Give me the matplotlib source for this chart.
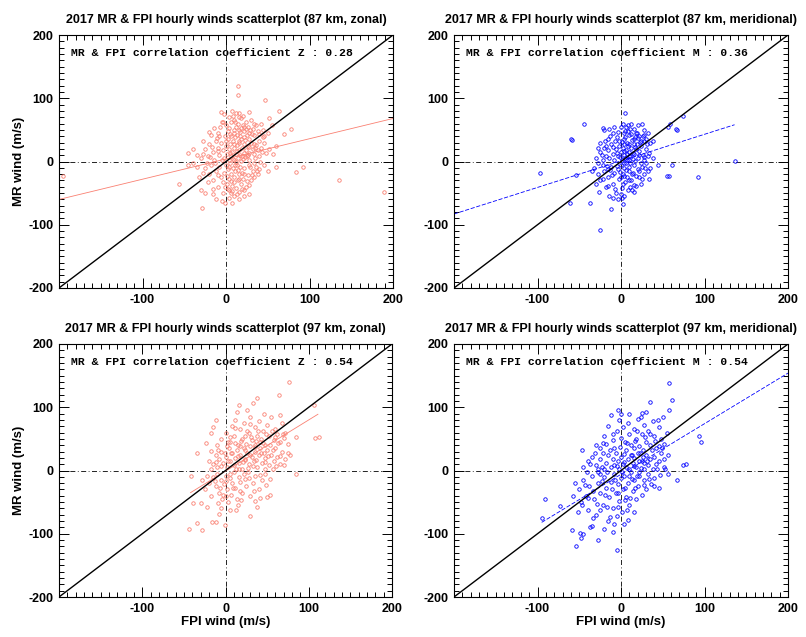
import numpy as np
import matplotlib
matplotlib.use("Agg")
from matplotlib import pyplot as plt

# (FPI wind, MR wind) pairs, m/s
zonal_87 = [
    (14, 119), (14, 105), (47, 98), (64, 80), (-6, 78), (16, 77), (52, 69), (78, 51), (70, 43),
    (-20, 47), (-40, 20), (-46, 14), (92, -8), (84, -17), (60, -8), (-56, -36), (-29, -74),
    (-1, -65), (7, -65), (15, -60), (6, -50), (-195, -23), (135, -29), (189, -48),
    (-14, 53), (-10, 45), (-5, 62), (0, 58), (3, 70), (6, 62), (8, 72), (10, 66), (12, 55),
    (14, 60), (16, 50), (18, 68), (20, 58), (22, 48), (24, 62), (26, 55), (28, 45), (30, 65),
    (32, 52), (34, 42), (36, 58), (38, 48), (40, 44), (42, 60), (-18, 42), (-8, 40), (2, 48),
    (5, 44), (9, 50), (13, 42), (17, 40), (21, 55), (25, 42), (29, 50), (33, 60), (44, 50),
    (46, 40), (50, 45), (55, 58), (-2, 75), (7, 80), (12, 76), (20, 72), (27, 78),
    (-25, 20), (-20, 28), (-16, 15), (-12, 32), (-10, 22), (-8, 10), (-6, 30), (-4, 18), (-2, 5),
    (0, 25), (1, 12), (2, 35), (3, 3), (4, 20), (5, 28), (6, 8), (7, 15), (8, 32), (9, 2),
    (10, 22), (11, 38), (12, 12), (13, 26), (14, 6), (15, 18), (16, 30), (17, 10), (18, 36),
    (19, 22), (20, 4), (21, 14), (22, 28), (23, 34), (24, 18), (25, 8), (26, 24), (28, 14),
    (30, 30), (32, 20), (34, 12), (36, 26), (38, 18), (40, 8), (42, 22), (45, 30), (48, 14),
    (52, 20), (56, 12), (60, 25), (-30, 5), (-22, 8), (-14, 3), (-28, 12), (44, 38), (35, 5),
    (27, 2), (-35, 10), (-40, -2),
    (-25, -10), (-20, -20), (-18, -5), (-15, -30), (-12, -15), (-10, -40), (-8, -8), (-6, -25),
    (-4, -50), (-2, -18), (0, -5), (1, -35), (2, -12), (3, -28), (4, -45), (5, -3), (6, -20),
    (7, -38), (8, -10), (9, -55), (10, -25), (11, -15), (12, -42), (13, -5), (14, -30),
    (15, -20), (16, -48), (17, -8), (18, -35), (19, -18), (20, -28), (22, -10), (24, -40),
    (26, -22), (28, -5), (30, -30), (32, -15), (34, -25), (36, -8), (38, -20), (40, -12),
    (-22, -32), (-28, -18), (-32, -25), (-30, -45), (-25, -50), (-16, -52), (-12, -60),
    (-5, -62), (3, -57), (22, -45), (28, -52), (-35, -8), (-45, -5), (45, -5), (50, -15),
    (-17, 23), (-13, -3), (-11, 37), (-9, -22), (-7, 55), (-3, -33), (-1, 41), (1, -23),
    (3, 53), (4, -9), (5, 13), (6, 41), (7, -47), (8, 4), (9, 27), (10, -33), (11, 63),
    (12, -1), (13, 17), (14, -13), (15, 33), (16, -27), (17, 47), (18, 1), (19, -43), (21, 39),
    (22, -19), (23, 7), (24, 51), (25, -31), (26, 11), (27, 35), (29, -9), (31, 43), (33, -3),
    (35, 21), (37, -15), (39, 33), (41, -1), (43, 15), (-19, 7), (-23, -3), (-15, -43),
    (-5, 3), (-3, 63), (2, -43), (11, -5), (19, 9), (27, -37), (33, 27), (9, 45), (15, 71),
    (21, -55), (-9, 17), (0, 33), (6, -31), (18, 53), (28, 23), (-27, 33), (31, -21),
    (13, -51), (-1, -41),
]

merid_87 = [
    (5, 77), (-44, 60), (-60, 35), (-21, 53), (-14, 52), (66, 51), (56, 55), (74, 72),
    (61, -5), (44, -5), (55, -23), (-97, -18), (-54, -21), (-59, 34), (-61, -65), (-25, -109),
    (92, -24), (136, 1), (57, -23), (67, 50), (59, 59), (-12, -75), (2, -67), (-37, -65),
    (-20, 50), (-10, 45), (-5, 38), (0, 55), (2, 60), (5, 48), (8, 58), (10, 42), (12, 60),
    (15, 52), (18, 45), (20, 58), (22, 40), (25, 60), (28, 50), (30, 35), (-15, 35), (-2, 32),
    (4, 36), (7, 30), (13, 34), (17, 38), (24, 32), (32, 45), (35, 30), (-8, 55), (3, 45),
    (11, 52), (27, 42), (-25, 30), (38, 33),
    (-30, 5), (-25, 15), (-20, 22), (-18, 8), (-15, 18), (-12, 28), (-10, 12), (-8, 2),
    (-6, 20), (-4, 8), (-2, 25), (0, 15), (1, 3), (2, 22), (3, 10), (4, 28), (5, 5), (6, 18),
    (7, 12), (8, 25), (9, 2), (10, 15), (11, 8), (12, 22), (14, 4), (15, 28), (16, 12),
    (18, 20), (20, 6), (22, 16), (24, 25), (26, 10), (28, 2), (30, 20), (32, 8), (34, 14),
    (-22, 3), (-28, -2), (38, 5), (-14, 6), (19, 27),
    (-32, -10), (-28, -20), (-25, -30), (-22, -5), (-20, -15), (-18, -40), (-15, -25),
    (-12, -8), (-10, -35), (-8, -18), (-6, -50), (-4, -12), (-2, -28), (0, -5), (1, -42),
    (2, -20), (3, -55), (4, -10), (5, -32), (6, -3), (7, -25), (8, -45), (9, -15), (10, -8),
    (12, -30), (14, -18), (16, -5), (18, -38), (20, -12), (22, -25), (25, -8), (28, -20),
    (30, -3), (32, -15), (-26, -48), (-14, -55), (-3, -60), (0, -52), (-16, -12), (15, -48),
    (24, -35), (-30, -35), (35, -10), (-35, -15),
    (-23, 11), (-19, 33), (-17, -7), (-13, 41), (-11, -21), (-9, 23), (-7, -43), (-5, 13),
    (-3, 47), (-1, -17), (1, 31), (2, -35), (3, 17), (4, -23), (5, 39), (6, -13), (7, 3),
    (8, 49), (9, -29), (10, 27), (11, -3), (12, 43), (13, -19), (14, 13), (15, -37), (16, 35),
    (17, 1), (18, -23), (19, 45), (21, 11), (22, -15), (23, 31), (25, -27), (26, 41), (27, 7),
    (29, -11), (31, 27), (-27, 21), (-21, -27), (-15, -39), (-9, -57), (0, -25), (6, 55),
    (13, -45), (20, 37), (-5, -7), (3, -3), (9, 9), (-13, -13), (17, 23), (-1, 7), (24, -3),
    (-7, 33), (11, -41), (28, 33), (-18, 25), (1, -57), (33, -27),
]

zonal_97 = [
    (76, 140), (64, 120), (38, 114), (16, 103), (33, 106), (-12, 80), (-15, 68), (-18, 59),
    (-24, 44), (106, 103), (112, 53), (108, 52), (85, 53), (78, 24), (85, -5), (70, 8),
    (-42, -9), (-34, 27), (-39, -52), (-34, -83), (-44, -92), (-28, -94), (-1, -86), (30, -72),
    (38, -57), (50, -42), (53, -39), (-16, -81), (-12, -81), (-8, -68), (-22, -57), (-30, -52),
    (0, 60), (5, 45), (8, 70), (10, 55), (12, 80), (15, 40), (18, 65), (20, 50), (22, 75),
    (25, 42), (28, 60), (30, 85), (32, 48), (35, 68), (38, 55), (40, 78), (42, 45), (45, 62),
    (48, 40), (50, 72), (52, 55), (55, 85), (58, 48), (60, 65), (62, 58), (65, 45), (68, 75),
    (70, 52), (72, 60), (75, 42), (-5, 50), (-10, 40), (2, 38), (14, 92), (26, 95), (46, 90),
    (56, 62), (66, 88), (24, 55), (36, 40), (43, 50),
    (-15, 10), (-12, 25), (-10, 5), (-8, 18), (-5, 30), (-3, 12), (0, 22), (2, 5), (4, 35),
    (6, 15), (8, 28), (10, 8), (12, 20), (14, 32), (16, 12), (18, 25), (20, 3), (22, 35),
    (24, 18), (26, 28), (28, 10), (30, 38), (32, 22), (34, 15), (36, 30), (38, 5), (40, 25),
    (42, 35), (44, 12), (46, 28), (48, 20), (50, 32), (52, 8), (55, 25), (58, 15), (60, 35),
    (62, 22), (65, 10), (68, 30), (72, 18), (75, 28), (-18, 2), (-20, 15), (17, 38), (27, 4),
    (47, 3), (57, 2),
    (-15, -10), (-12, -25), (-10, -5), (-8, -35), (-6, -15), (-4, -45), (-2, -22), (0, -8),
    (2, -30), (3, -50), (5, -12), (7, -38), (8, -20), (10, -3), (12, -28), (14, -45),
    (16, -10), (18, -18), (20, -35), (22, -5), (25, -25), (28, -12), (30, -40), (33, -20),
    (36, -8), (40, -30), (44, -15), (48, -5), (-20, -20), (-25, -30), (-18, -40), (-22, -8),
    (-28, -15), (-5, -60), (5, -62), (15, -55), (35, -48), (0, -40),
    (-13, -17), (-11, 13), (-9, 33), (-7, -27), (-5, 7), (-3, -39), (-1, 27), (1, -17),
    (3, 15), (5, 53), (6, -5), (7, 27), (9, -27), (11, 43), (13, 3), (15, 23), (17, -33),
    (19, 47), (21, 13), (23, -13), (24, 33), (26, 63), (27, -3), (29, 25), (31, 53), (33, 7),
    (34, -33), (35, 37), (37, 17), (39, 63), (41, -7), (43, 27), (45, 43), (47, 13), (49, 57),
    (51, 23), (53, 41), (54, -13), (57, 33), (59, 53), (61, 7), (63, 43), (66, 23), (69, 57),
    (11, 67), (3, 45), (19, -47), (29, 73), (-9, -51), (13, -63), (41, -43), (-17, 31),
    (23, 17), (37, 47), (16, 3), (49, -23),
]

merid_97 = [
    (57, 138), (61, 112), (58, 96), (35, 108), (25, 91), (24, 85), (0, 90), (-47, 32),
    (-91, -45), (-95, -75), (-73, -56), (-27, -110), (-49, -99), (-48, -106), (-59, -94),
    (-37, -89), (-10, -98), (78, 10), (74, 8), (67, -15), (56, -5), (51, 6), (94, 55), (96, 45),
    (-5, -126), (-54, -120), (-45, -101),
    (-30, 40), (-20, 55), (-15, 70), (-10, 48), (-5, 62), (-2, 80), (0, 52), (2, 68), (5, 45),
    (8, 75), (10, 58), (12, 40), (15, 65), (18, 50), (20, 82), (22, 38), (25, 58), (28, 72),
    (30, 45), (32, 62), (35, 40), (38, 78), (40, 55), (42, 35), (45, 68), (48, 50), (50, 85),
    (55, 60), (-25, 35), (-8, 35), (6, 32), (16, 36), (26, 33), (46, 38), (-12, 88), (-3, 95),
    (10, 90), (30, 92), (44, 80), (52, 42), (-18, 42),
    (-45, 5), (-40, 15), (-35, 22), (-30, 8), (-25, 18), (-22, 28), (-20, 3), (-18, 12),
    (-15, 25), (-12, 5), (-10, 18), (-8, 8), (-6, 28), (-4, 15), (-2, 3), (0, 22), (2, 10),
    (4, 26), (6, 5), (8, 18), (10, 2), (12, 25), (14, 12), (16, 20), (18, 6), (20, 28),
    (22, 15), (24, 4), (26, 22), (28, 12), (30, 25), (32, 8), (35, 18), (38, 3), (40, 22),
    (42, 10), (45, 15), (48, 28), (52, 18), (56, 25), (-28, -2),
    (-50, -30), (-48, -50), (-45, -15), (-42, -40), (-40, -62), (-38, -25), (-35, -8),
    (-32, -45), (-30, -70), (-28, -20), (-25, -35), (-22, -55), (-20, -10), (-18, -28),
    (-15, -80), (-14, -42), (-12, -18), (-10, -60), (-8, -5), (-6, -35), (-5, -72), (-4, -22),
    (-2, -48), (0, -12), (1, -65), (2, -30), (3, -85), (4, -8), (6, -42), (8, -20), (10, -55),
    (12, -3), (14, -32), (16, -15), (18, -45), (20, -25), (22, -8), (25, -38), (28, -15),
    (30, -30), (32, -5), (36, -22), (40, -12), (45, -28), (-55, -20), (-52, -65), (-35, -88),
    (-20, -92), (-8, -85), (8, -78), (15, -65), (-25, -5), (-58, -40),
    (-43, -23), (-41, -3), (-37, 11), (-33, -33), (-31, 27), (-29, -53), (-27, 3), (-23, -17),
    (-21, 43), (-19, -39), (-17, -3), (-13, 33), (-11, -29), (-9, 57), (-7, -15), (-3, -57),
    (-1, 37), (1, -3), (3, 13), (5, -27), (7, 43), (9, -9), (11, -43), (13, 25), (15, 7),
    (17, -27), (19, 63), (21, -3), (23, 27), (27, -23), (29, 53), (31, 15), (33, -13),
    (37, 33), (39, -25), (41, 47), (43, 3), (47, -7), (49, 35), (53, 3), (-47, -55),
    (-39, -43), (-33, -75), (-25, -63), (-13, -73), (-3, -35), (5, -47), (13, -13), (25, 15),
    (35, 57), (-17, -57), (19, -9), (-5, 7), (7, -63), (27, 3), (-23, 5), (17, 47),
]

# fitted lines: (x start, x end, slope, intercept)
fits = [(-200, 200, 0.32, 4), (-200, 136, 0.42, 1), (-42, 111, 0.81, -1), (-95, 200, 0.80, -6)]
titles = ["2017 MR & FPI hourly winds scatterplot (87 km, zonal)",
          "2017 MR & FPI hourly winds scatterplot (87 km, meridional)",
          "2017 MR & FPI hourly winds scatterplot (97 km, zonal)",
          "2017 MR & FPI hourly winds scatterplot (97 km, meridional)"]
coef_text = ["MR & FPI correlation coefficient Z : 0.28",
             "MR & FPI correlation coefficient M : 0.36",
             "MR & FPI correlation coefficient Z : 0.54",
             "MR & FPI correlation coefficient M : 0.54"]
datasets = [zonal_87, merid_87, zonal_97, merid_97]
colors = ["#fa8072", "#0000ff", "#fa8072", "#0000ff"]

plt.rcParams["font.family"] = "Liberation Sans"

fig = plt.figure(figsize=(8.06, 6.37), dpi=100)
W, H = 806, 637
boxes = [(59, 35, 393, 288), (454, 35, 788, 288), (59, 344, 392, 597), (454, 344, 788, 597)]

for i, (x0, y0, x1, y1) in enumerate(boxes):
    ax = fig.add_axes([x0 / W, 1 - y1 / H, (x1 - x0) / W, (y1 - y0) / H])
    pts = np.array(datasets[i])
    ax.plot(pts[:, 0], pts[:, 1], "o", mfc="none", mec=colors[i], ms=2.5, mew=0.6, zorder=2)

    ax.plot([-200, 200], [-200, 200], color="black", lw=1.0, zorder=3)
    ax.axhline(0, color="black", lw=0.6, dashes=(6, 3, 1, 3), zorder=1)
    ax.axvline(0, color="black", lw=0.6, dashes=(6, 3, 1, 3), zorder=1)

    xa, xb, m, b = fits[i]
    fx = np.array([xa, xb])
    if i % 2 == 0:
        ax.plot(fx, m * fx + b, color=colors[i], lw=0.6, zorder=2)
    else:
        ax.plot(fx, m * fx + b, color=colors[i], lw=0.6, dashes=(5, 2), zorder=2)

    ax.set_xlim(-200, 200)
    ax.set_ylim(-200, 200)
    ax.set_xticks([-200, -100, 0, 100, 200])
    ax.set_xticklabels(["", "-100", "0", "100", "200"])
    ax.set_yticks([-200, -100, 0, 100, 200])
    ax.set_yticklabels(["-200", "-100", "0", "100", "200"])
    ax.set_xticks(np.arange(-200, 201, 10), minor=True)
    ax.set_yticks(np.arange(-200, 201, 10), minor=True)
    ax.tick_params(which="both", direction="in", top=True, right=True, width=0.7)
    ax.tick_params(which="major", length=7, labelsize=9, pad=4)
    ax.tick_params(which="minor", length=3.5)
    for lab in ax.get_xticklabels() + ax.get_yticklabels():
        lab.set_fontweight("bold")
    for sp in ax.spines.values():
        sp.set_linewidth(0.8)

    ax.text(0.5, 1.06, titles[i], transform=ax.transAxes, ha="center", va="center",
            fontsize=9, fontweight="bold")
    ax.text(-186, 172, coef_text[i], ha="left", va="center", fontsize=8.2,
            family="Liberation Mono", fontweight="bold")

    if i % 2 == 0:
        ax.set_ylabel("MR wind (m/s)", fontsize=9.5, fontweight="bold")
        ax.yaxis.set_label_coords(-0.102, 0.5)
    if i >= 2:
        ax.set_xlabel("FPI wind (m/s)", fontsize=9.5, fontweight="bold")
        ax.xaxis.set_label_coords(0.5, -0.077)

fig.savefig("out.png", dpi=100)
